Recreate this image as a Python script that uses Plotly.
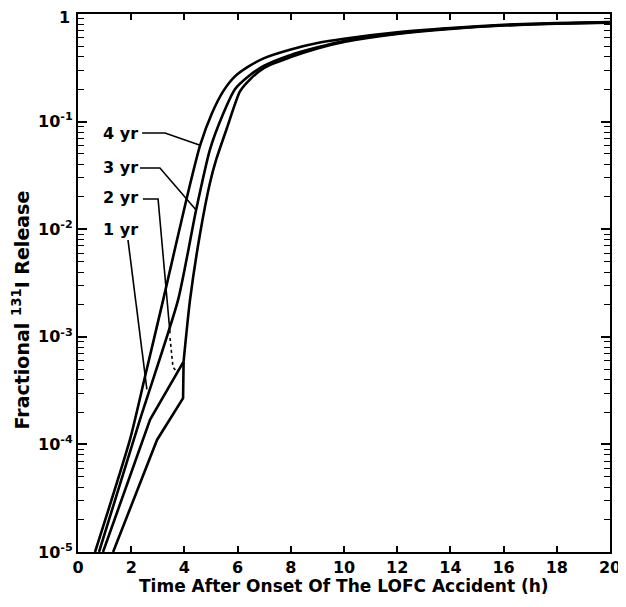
import numpy as np
import plotly.graph_objects as go

# Curve A (leftmost / steepest)
t_a = [0.64, 1.95, 2.52, 3.20, 4.10, 4.59, 5.04, 5.45, 5.9, 6.4, 7.0, 8, 9, 10, 12, 14, 16, 18, 20]
y_a = [1.0e-5, 1.10e-4, 4.27e-4, 2.19e-3, 2.0e-2, 6.0e-2, 0.120, 0.190, 0.263, 0.324, 0.389, 0.468, 0.537, 0.589, 0.676, 0.741, 0.794, 0.822, 0.841]

# Curve B
t_b = [0.79, 2.33, 3.76, 4.44, 4.96, 5.45, 5.9, 6.4, 7.0, 8, 9, 10, 12, 14, 16, 18, 20]
y_b = [1.0e-5, 1.70e-4, 2.19e-3, 1.51e-2, 5.5e-2, 0.117, 0.20, 0.263, 0.331, 0.417, 0.490, 0.562, 0.661, 0.733, 0.785, 0.817, 0.836]

# Curve C (lower branch joining D at the step)
t_c = [0.94, 2.44, 2.71, 3.97]
y_c = [1.0e-5, 1.10e-4, 1.70e-4, 5.89e-4]

# Curve D lower branch with step
t_d_low = [1.32, 2.97, 3.95, 3.97]
y_d_low = [1.0e-5, 1.10e-4, 2.69e-4, 5.89e-4]

# Curve D upper branch
t_d_up = [3.97, 4.21, 4.59, 4.96, 5.2, 5.6, 6.09, 6.5, 7.0, 8, 9, 10, 12, 14, 16, 18, 20]
y_d_up = [5.89e-4, 2.19e-3, 9.12e-3, 2.69e-2, 4.47e-2, 8.71e-2, 0.191, 0.251, 0.316, 0.398, 0.479, 0.550, 0.653, 0.728, 0.782, 0.813, 0.832]

# Labels and their leader lines
label_text = ["4 yr", "3 yr", "2 yr", "1 yr"]
label_t = [0.88, 0.88, 0.88, 0.88]
label_y = [0.0783, 0.0371, 0.0195, 0.00984]

lead4_t = [2.41, 3.27, 4.59]
lead4_y = [0.0783, 0.0783, 0.0603]
lead3_t = [2.33, 3.08, 4.44]
lead3_y = [0.0371, 0.0371, 0.0151]
lead2_t = [2.44, 3.01, 3.46]
lead2_y = [0.0191, 0.0191, 0.00108]
lead2d_t = [3.46, 3.57, 3.72, 3.95]
lead2d_y = [9.75e-4, 5.24e-4, 4.71e-4, 5.71e-4]
lead1_t = [1.88, 2.59]
lead1_y = [0.00794, 3.24e-4]

x_ticks = list(range(0, 21, 2))
y_tickvals = [1e-5, 1e-4, 1e-3, 1e-2, 1e-1, 1]
y_ticktext = ["10<sup>-5</sup>", "10<sup>-4</sup>", "10<sup>-3</sup>", "10<sup>-2</sup>", "10<sup>-1</sup>", ""]
top_tick_text = "1"
y_minor = [k * 10.0 ** d for d in range(-5, 0) for k in range(2, 10)]

FONT = "DejaVu Sans, Liberation Sans, sans-serif"
fig = go.Figure()

curve_style = dict(color="black", width=2.6)
fig.add_trace(go.Scatter(x=t_a, y=y_a, mode="lines", line=dict(shape="spline", smoothing=0.6, **curve_style)))
fig.add_trace(go.Scatter(x=t_b, y=y_b, mode="lines", line=dict(shape="spline", smoothing=0.6, **curve_style)))
fig.add_trace(go.Scatter(x=t_c, y=y_c, mode="lines", line=dict(**curve_style)))
fig.add_trace(go.Scatter(x=t_d_low, y=y_d_low, mode="lines", line=dict(**curve_style)))
fig.add_trace(go.Scatter(x=t_d_up, y=y_d_up, mode="lines", line=dict(shape="spline", smoothing=0.6, **curve_style)))

lead_style = dict(color="black", width=1.6)
for lt, ly in [(lead4_t, lead4_y), (lead3_t, lead3_y), (lead2_t, lead2_y), (lead1_t, lead1_y)]:
    fig.add_trace(go.Scatter(x=lt, y=ly, mode="lines", line=lead_style))
fig.add_trace(go.Scatter(x=lead2d_t, y=lead2d_y, mode="lines", line=dict(color="black", width=1.6, dash="3px,3px")))

for txt, lt, ly in zip(label_text, label_t, label_y):
    fig.add_annotation(x=lt, y=np.log10(ly), text=txt, showarrow=False, xanchor="left", yanchor="middle",
                       font=dict(family=FONT, size=16, color="black", weight="bold"))

# top "1" tick label, nudged down slightly so it is not clipped by the page edge
fig.add_annotation(xref="paper", yref="y", x=-0.012, y=np.log10(y_tickvals[-1]), text=top_tick_text,
                   showarrow=False, xanchor="right", yanchor="middle", yshift=-3,
                   font=dict(family=FONT, size=16, color="black", weight="bold"))

fig.add_annotation(xref="paper", yref="paper", x=-0.108, y=0.45, text="Fractional <sup>131</sup>I Release",
                   textangle=-90, showarrow=False, xanchor="center", yanchor="middle",
                   font=dict(family=FONT, size=19, color="black", weight="bold"))

fig.add_annotation(xref="paper", yref="paper", x=0.5, y=-0.041, text="Time After Onset Of The LOFC Accident (h)",
                   showarrow=False, xanchor="center", yanchor="top",
                   font=dict(family=FONT, size=17, color="black", weight="bold"))

# The page body adds an 8px offset, so the figure is sized to fill the rest of the window.
fig.update_layout(
    width=618, height=591,
    margin=dict(l=70, r=16, t=6, b=47, autoexpand=False),
    paper_bgcolor="white", plot_bgcolor="white",
    showlegend=False,
    font=dict(family=FONT, size=16, color="black", weight="bold"),
)
fig.update_xaxes(
    range=[0, 20], tickvals=x_ticks, ticks="inside", ticklen=6, tickwidth=1.5, tickcolor="black",
    showline=True, linecolor="black", linewidth=2, mirror="allticks", showgrid=False, zeroline=False,
    automargin=False, ticklabeloverflow="allow",
    tickfont=dict(family=FONT, size=16, color="black", weight="bold"),
)
fig.update_yaxes(
    type="log", range=[-5, 0], tickmode="array", tickvals=y_tickvals, ticktext=y_ticktext,
    ticks="inside", ticklen=9, tickwidth=1.5, tickcolor="black",
    minor=dict(tickmode="array", tickvals=y_minor, ticks="inside", ticklen=6, tickwidth=1.3, tickcolor="black", showgrid=False),
    showline=True, linecolor="black", linewidth=2, mirror="allticks", showgrid=False, zeroline=False,
    automargin=False, ticklabeloverflow="allow",
    tickfont=dict(family=FONT, size=16, color="black", weight="bold"),
)
fig.write_html("out.html")
